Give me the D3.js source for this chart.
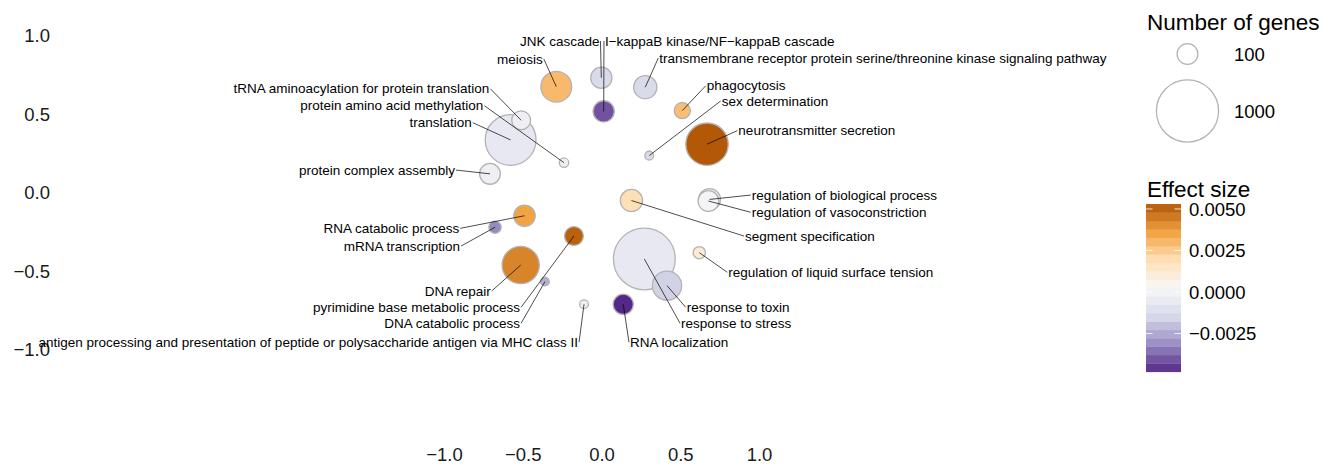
<!DOCTYPE html>
<html>
<head>
<meta charset="utf-8">
<script src="https://cdn.jsdelivr.net/npm/d3@7"></script>
<style>
  body { margin: 0; background: #fff; }
  svg { font-family: "Liberation Sans", Arial, Helvetica, sans-serif; }
</style>
</head>
<body>
<svg id="chart" width="1337" height="467"></svg>
<script>
// GO terms, their layout coords, effect size and gene counts
const terms = [
  "meiosis", "JNK cascade", "I\u2212kappaB kinase/NF\u2212kappaB cascade",
  "transmembrane receptor protein serine/threonine kinase signaling pathway",
  "phagocytosis", "sex determination", "neurotransmitter secretion",
  "tRNA aminoacylation for protein translation", "protein amino acid methylation",
  "translation", "protein complex assembly", "regulation of biological process",
  "regulation of vasoconstriction", "segment specification", "RNA catabolic process",
  "mRNA transcription", "DNA repair", "pyrimidine base metabolic process",
  "DNA catabolic process",
  "antigen processing and presentation of peptide or polysaccharide antigen via MHC class II",
  "RNA localization", "response to stress", "response to toxin",
  "regulation of liquid surface tension"
];
const xs = [-0.287, -0.001, 0.014, 0.278, 0.513, 0.303, 0.670, -0.510, -0.238, -0.577, -0.708, 0.686,
  0.679, 0.190, -0.489, -0.676, -0.513, -0.175, -0.359, -0.111, 0.138, 0.272, 0.416, 0.621];
const ys = [0.677, 0.734, 0.520, 0.674, 0.525, 0.238, 0.311, 0.463, 0.193, 0.338, 0.122, -0.041,
  -0.051, -0.048, -0.145, -0.218, -0.459, -0.274, -0.564, -0.709, -0.709, -0.420, -0.590, -0.380];
const nGenes = [232, 105, 105, 127, 58, 14, 453, 81, 17, 659, 100, 111,
  100, 116, 107, 31, 345, 81, 14, 14, 94, 987, 207, 31];
const effect = [0.0030, -0.0014, -0.0041, -0.0014, 0.0029, -0.0014, 0.0053, -0.00025, -0.0003, -0.0006, -0.00025, 0.0000,
  0.0001, 0.0019, 0.0036, -0.0032, 0.0043, 0.0051, -0.0024, -0.0003, -0.0048, -0.0006, -0.0016, 0.0011];

// repelled label positions (same units as xs/ys) and which side the text sits on
const labelX = [-0.373, -0.013, 0.022, 0.367, 0.668, 0.763, 0.869, -0.712, -0.750, -0.824, -0.930, 0.954,
  0.954, 0.911, -0.903, -0.898, -0.703, -0.517, -0.517, -0.149, 0.181, 0.505, 0.541, 0.805];
const labelY = [0.854, 0.968, 0.968, 0.860, 0.683, 0.586, 0.397, 0.664, 0.556, 0.448, 0.146, -0.013,
  -0.123, -0.274, -0.225, -0.338, -0.624, -0.728, -0.830, -0.951, -0.951, -0.830, -0.728, -0.505];
const labelSide = ["end", "end", "start", "start", "start", "start", "start", "end", "end", "end", "end", "start",
  "start", "start", "end", "end", "end", "end", "end", "end", "start", "start", "start", "start"];

const axisTicks = [-1.0, -0.5, 0.0, 0.5, 1.0];
const sizeBreaks = [100, 1000];
const colorBreaks = [0.005, 0.0025, 0.0, -0.0025];
const puor = ["#542788", "#998ec3", "#d8daeb", "#f7f7f7", "#fee0b6", "#f1a340", "#b35806"];

const svg = d3.select("#chart");

const x = d3.scaleLinear().domain([-1, 1]).range([444, 759]);
const y = d3.scaleLinear().domain([-1, 1]).range([350, 36]);
const r = d3.scaleSqrt().domain([0, 1000]).range([0.8, 31.1]);

const eMin = d3.min(effect), eMax = d3.max(effect);
const color = d3.scaleLinear()
  .domain(d3.range(puor.length).map(i => eMin + (eMax - eMin) * i / (puor.length - 1)))
  .range(puor)
  .interpolate(d3.interpolateLab);

// axes, labels only
const yAxis = svg.append("g")
  .attr("transform", "translate(54,0)")
  .call(d3.axisLeft(y).tickValues(axisTicks).tickSize(0).tickPadding(4).tickFormat(d3.format(".1f")));
const xAxis = svg.append("g")
  .attr("transform", "translate(0,444)")
  .call(d3.axisBottom(x).tickValues(axisTicks).tickSize(0).tickPadding(4).tickFormat(d3.format(".1f")));
[xAxis, yAxis].forEach(a => {
  a.select(".domain").remove();
  a.selectAll("text").attr("font-size", 18.5).attr("fill", "#1a1a1a").attr("font-family", null);
});

const idx = d3.range(terms.length);
// draw big ones first so small circles stay visible
const order = idx.slice().sort((a, b) => nGenes[b] - nGenes[a]);

svg.append("g").selectAll("circle")
  .data(order)
  .join("circle")
  .attr("cx", i => x(xs[i]))
  .attr("cy", i => y(ys[i]))
  .attr("r", i => r(nGenes[i]))
  .attr("fill", i => color(effect[i]))
  .attr("stroke", "#b3b3b3")
  .attr("stroke-width", 1.3);

// label segments
svg.append("g").selectAll("line")
  .data(idx)
  .join("line")
  .attr("x1", i => x(labelX[i]) + (labelSide[i] === "end" ? 1 : -1))
  .attr("y1", i => y(labelY[i]))
  .attr("x2", i => x(xs[i]))
  .attr("y2", i => y(ys[i]))
  .attr("stroke", "#000")
  .attr("stroke-width", 0.7);

svg.append("g").selectAll("text")
  .data(idx)
  .join("text")
  .attr("x", i => x(labelX[i]))
  .attr("y", i => y(labelY[i]))
  .attr("dy", "0.35em")
  .attr("text-anchor", i => labelSide[i])
  .attr("font-size", 13.5)
  .attr("fill", "#000")
  .text(i => terms[i]);

// size legend
const sizeLeg = svg.append("g");
sizeLeg.append("text").attr("x", 1147).attr("y", 30).attr("font-size", 22.5).text("Number of genes");
const sizeY = [54, 111];
sizeLeg.selectAll("circle").data(sizeBreaks).join("circle")
  .attr("cx", 1187.5).attr("cy", (d, i) => sizeY[i]).attr("r", d => r(d))
  .attr("fill", "none").attr("stroke", "#b3b3b3").attr("stroke-width", 1.3);
sizeLeg.selectAll("text.lab").data(sizeBreaks).join("text").attr("class", "lab")
  .attr("x", 1234).attr("y", (d, i) => sizeY[i]).attr("dy", "0.36em")
  .attr("font-size", 18.5).text(d => d);

// colour bar
const cb = svg.append("g");
cb.append("text").attr("x", 1147).attr("y", 197).attr("font-size", 22.5).text("Effect size");
const cbTop = 204, cbBottom = 371.7, cbLeft = 1146, cbW = 35, nBins = 20;
const cbY = d3.scaleLinear().domain([eMin, eMax]).range([cbBottom, cbTop]);
const bins = d3.range(nBins).map(i => eMin + (eMax - eMin) * (i + 0.5) / nBins);
const binH = (cbBottom - cbTop) / nBins;
cb.selectAll("rect").data(bins).join("rect")
  .attr("x", cbLeft).attr("y", d => cbY(d) - binH / 2)
  .attr("width", cbW).attr("height", binH + 0.4)
  .attr("fill", d => color(d));
cb.selectAll("line.tl").data(colorBreaks).join("line").attr("class", "tl")
  .attr("x1", cbLeft).attr("x2", cbLeft + 6.5).attr("y1", d => cbY(d)).attr("y2", d => cbY(d))
  .attr("stroke", "#fff").attr("stroke-opacity", 0.8);
cb.selectAll("line.tr").data(colorBreaks).join("line").attr("class", "tr")
  .attr("x1", cbLeft + cbW - 6.5).attr("x2", cbLeft + cbW).attr("y1", d => cbY(d)).attr("y2", d => cbY(d))
  .attr("stroke", "#fff").attr("stroke-opacity", 0.8);
cb.selectAll("text.lab").data(colorBreaks).join("text").attr("class", "lab")
  .attr("x", 1189).attr("y", d => cbY(d)).attr("dy", "0.36em")
  .attr("font-size", 18.5).text(d => d3.format(".4f")(d));
</script>
</body>
</html>
